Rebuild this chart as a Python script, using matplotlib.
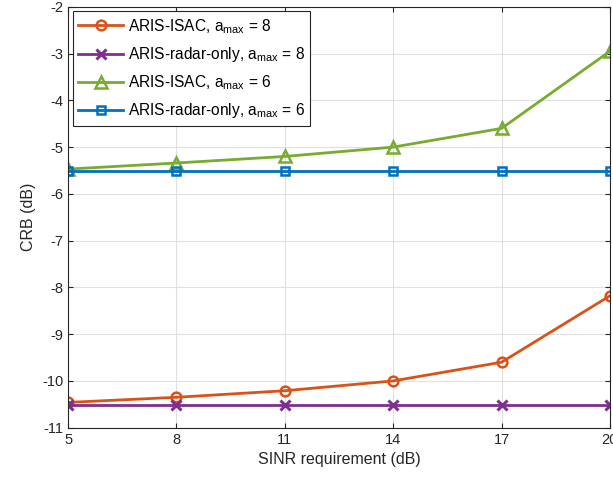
import matplotlib
matplotlib.use('Agg')
from matplotlib import pyplot as plt
import numpy as np

sinr = [5, 8, 11, 14, 17, 20]
isac_8 = [-10.46, -10.35, -10.21, -10.0, -9.6, -8.18]
radar_8 = [-10.52, -10.52, -10.52, -10.52, -10.52, -10.52]
isac_6 = [-5.47, -5.34, -5.2, -5.0, -4.6, -2.95]
radar_6 = [-5.52, -5.52, -5.52, -5.52, -5.52, -5.52]

plt.rcParams['font.family'] = ['Liberation Sans', 'DejaVu Sans']
plt.rcParams['axes.unicode_minus'] = False
plt.rcParams['mathtext.fontset'] = 'custom'
plt.rcParams['mathtext.rm'] = 'Liberation Sans'
plt.rcParams['mathtext.it'] = 'Liberation Sans'

fig = plt.figure(figsize=[6.13, 4.86], dpi=100)
ax = fig.add_axes([0.111, 0.12, 0.884, 0.866])

lw = 2
ax.plot(sinr, isac_8, color='#D95319', lw=lw, marker='o', ms=7, mfc='none', mew=1.8,
        label='ARIS-ISAC, a$_{\\mathrm{max}}$ = 8')
ax.plot(sinr, radar_8, color='#7E2F8E', lw=lw, marker='x', ms=7, mew=2.2,
        label='ARIS-radar-only, a$_{\\mathrm{max}}$ = 8')
ax.plot(sinr, isac_6, color='#77AC30', lw=lw, marker='^', ms=9, mfc='none', mew=1.8,
        label='ARIS-ISAC, a$_{\\mathrm{max}}$ = 6')
ax.plot(sinr, radar_6, color='#0072BD', lw=lw, marker='s', ms=6, mfc='none', mew=1.8,
        label='ARIS-radar-only, a$_{\\mathrm{max}}$ = 6')

ax.set_xlim(5, 20)
ax.set_ylim(-11, -2)
ax.set_xticks(sinr)
ax.set_yticks(np.arange(-11, -1, 1))
ax.grid(True, color='#e0e0e0', lw=0.8)
ax.set_axisbelow(True)
ax.tick_params(direction='in', top=True, right=True, labelsize=10.5, colors='#262626')
for s in ax.spines.values():
    s.set_color('#262626')
    s.set_linewidth(0.8)

ax.set_xlabel('SINR requirement (dB)', fontsize=11.5, color='#262626')
ax.set_ylabel('CRB (dB)', fontsize=11.5, color='#262626')

leg = ax.legend(loc='upper left', fontsize=11.2, fancybox=False, framealpha=1,
                edgecolor='#262626', handlelength=2.9, borderaxespad=0.3,
                labelspacing=0.6, borderpad=0.35, handletextpad=0.3)
leg.get_frame().set_linewidth(0.8)

plt.savefig('out.png', dpi=100)
